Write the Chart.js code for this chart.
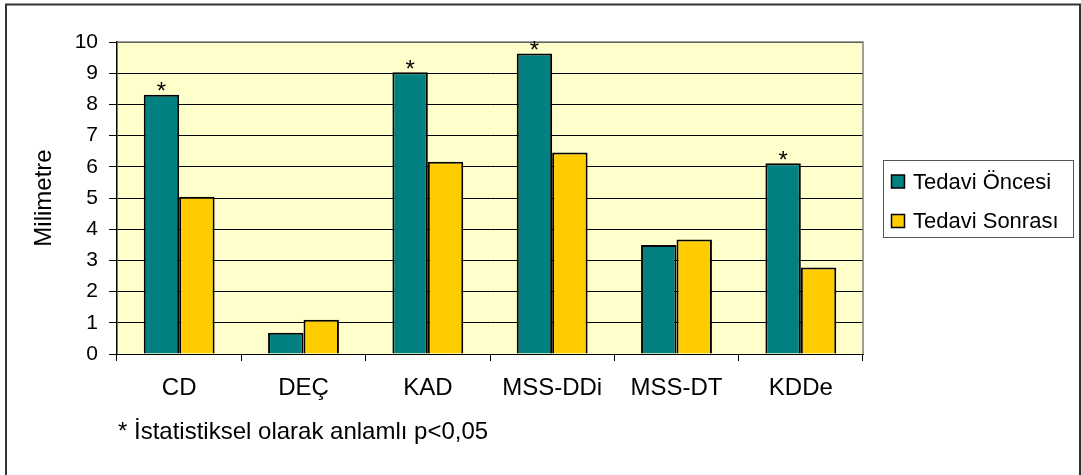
<!DOCTYPE html>
<html>
<head>
<meta charset="utf-8">
<script src="https://cdn.jsdelivr.net/npm/chart.js@4.4.1/dist/chart.umd.min.js"></script>
<style>
  html, body { margin: 0; padding: 0; background: #fff; }
  #wrap { width: 1081px; height: 475px; }
</style>
</head>
<body>
<div id="wrap"><canvas id="c" width="1081" height="475"></canvas></div>
<script>
// data
const categories = ["CD", "DEÇ", "KAD", "MSS-DDi", "MSS-DT", "KDDe"];
const before = [8.31, 0.68, 9.03, 9.63, 3.49, 6.11];
const after = [5.04, 1.10, 6.16, 6.46, 3.67, 2.77];
const significant = [true, false, true, true, false, true];
const seriesNames = ["Tedavi Öncesi", "Tedavi Sonrası"];
const seriesColors = ["#008080", "#FFCC00"];
const yTitle = "Milimetre";
const footnote = "* İstatistiksel olarak anlamlı p<0,05";

const FONT = "'Liberation Sans', Arial, sans-serif";

const decor = {
  id: "decor",
  beforeDraw(chart) {
    const ctx = chart.ctx, a = chart.chartArea;
    ctx.save();
    ctx.fillStyle = "#fff";
    ctx.fillRect(0, 0, chart.width, chart.height);
    // outer frame
    ctx.strokeStyle = "#333";
    ctx.lineWidth = 2;
    ctx.strokeRect(6, 4.5, 1074, 480);
    // plot background
    ctx.fillStyle = "#FFFFCC";
    ctx.fillRect(a.left, a.top, a.right - a.left, a.bottom - a.top);
    ctx.restore();
  },
  afterDraw(chart) {
    const ctx = chart.ctx, a = chart.chartArea;
    ctx.save();
    // plot border top / right
    ctx.strokeStyle = "#808080";
    ctx.lineWidth = 1.5;
    ctx.beginPath();
    ctx.moveTo(a.left, a.top);
    ctx.lineTo(a.right, a.top);
    ctx.lineTo(a.right, a.bottom);
    ctx.stroke();

    // significance stars
    const meta = chart.getDatasetMeta(0);
    ctx.fillStyle = "#000";
    ctx.font = "24px " + FONT;
    ctx.textAlign = "center";
    ctx.textBaseline = "alphabetic";
    meta.data.forEach((bar, i) => {
      if (!significant[i]) return;
      ctx.fillText("*", bar.x, bar.y - 9 + 13.5);
    });

    // legend
    ctx.strokeStyle = "#555";
    ctx.lineWidth = 1;
    ctx.strokeRect(883.5, 160.5, 190, 77);
    ctx.font = "22px " + FONT;
    ctx.textAlign = "left";
    ctx.textBaseline = "middle";
    const rows = [181.5, 221];
    seriesNames.forEach((name, i) => {
      ctx.fillStyle = seriesColors[i];
      ctx.fillRect(891.5, rows[i] - 6.5, 13, 13);
      ctx.strokeStyle = "#000";
      ctx.lineWidth = 1.5;
      ctx.strokeRect(891.5, rows[i] - 6.5, 13, 13);
      ctx.fillStyle = "#000";
      ctx.fillText(name, 913, rows[i] + 1);
    });

    // footnote
    ctx.font = "24px " + FONT;
    ctx.textBaseline = "alphabetic";
    ctx.fillText(footnote, 118, 439);
    ctx.restore();
  }
};

new Chart(document.getElementById("c"), {
  type: "bar",
  data: {
    labels: categories,
    datasets: [
      { label: seriesNames[0], data: before, backgroundColor: seriesColors[0] },
      { label: seriesNames[1], data: after, backgroundColor: seriesColors[1] }
    ]
  },
  options: {
    responsive: false,
    animation: false,
    devicePixelRatio: 1,
    layout: { padding: { left: 5, top: 42, right: 218, bottom: 71 } },
    datasets: {
      bar: {
        borderColor: "#000",
        borderWidth: 2,
        categoryPercentage: 0.57,
        barPercentage: 1
      }
    },
    plugins: { legend: { display: false }, tooltip: { enabled: false } },
    scales: {
      x: {
        offset: true,
        grid: { drawOnChartArea: false, drawTicks: true, tickLength: 7, color: "#000", offset: true },
        border: { color: "#000", width: 1 },
        ticks: { color: "#000", font: { family: FONT, size: 24 }, padding: 13 },
        afterFit(s) { s.height = 50; }
      },
      y: {
        min: 0,
        max: 10,
        ticks: { stepSize: 1, color: "#000", font: { family: FONT, size: 21 }, padding: 11 },
        grid: { color: "#000", lineWidth: 1, tickLength: 8, tickColor: "#000" },
        border: { color: "#000", width: 1.5 },
        title: {
          display: true,
          text: yTitle,
          color: "#000",
          font: { family: FONT, size: 24 },
          padding: { top: 25, bottom: 0 }
        },
        afterFit(s) { s.width = 112; }
      }
    }
  },
  plugins: [decor]
});
</script>
</body>
</html>
